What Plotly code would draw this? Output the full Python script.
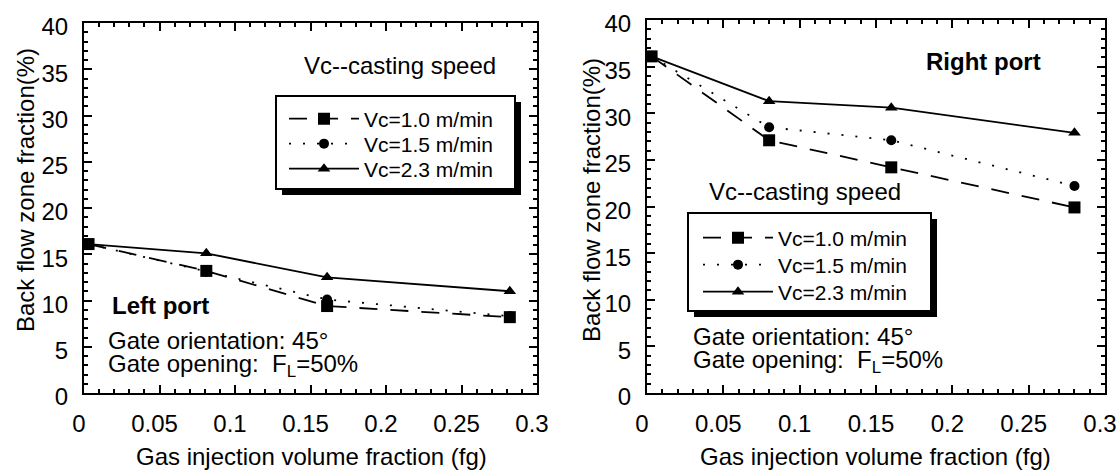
import plotly.graph_objects as go

W, H = 1117, 476
FONT = "Liberation Sans, Arial, Helvetica, sans-serif"

# ---------------- data ----------------
series_names = ["Vc=1.0 m/min", "Vc=1.5 m/min", "Vc=2.3 m/min"]

fg_left = [0.003, 0.081, 0.161, 0.282]
left_vc10 = [16.1, 13.2, 9.4, 8.2]
left_vc15 = [16.1, 13.1, 10.1, 8.3]
left_vc23 = [16.1, 15.1, 12.5, 11.0]

fg_right = [0.003, 0.080, 0.160, 0.280]
right_vc10 = [36.1, 27.1, 24.2, 19.9]
right_vc15 = [36.1, 28.5, 27.1, 22.2]
right_vc23 = [36.1, 31.3, 30.6, 27.9]

x_range = [0, 0.3]
y_range = [0, 40]

# ---------------- styles ----------------
styles = [
    dict(dash="18px,13px", symbol="square", size=12),
    dict(dash="2px,12px", symbol="circle", size=10),
    dict(dash="solid", symbol="triangle-up", size=11),
]


def px_x(p):
    return p / W


def px_y(p):
    return 1 - p / H


fig = go.Figure()

panels = [
    dict(xa="x", ya="y", fg=fg_left, vals=[left_vc10, left_vc15, left_vc23],
         legends=["legend", "legend2", "legend3"], leg_x=284, leg_rows=[119, 144, 169]),
    dict(xa="x2", ya="y2", fg=fg_right, vals=[right_vc10, right_vc15, right_vc23],
         legends=["legend4", "legend5", "legend6"], leg_x=698, leg_rows=[238, 265, 292]),
]

layout_legends = {}
for p in panels:
    for i, (name, vals) in enumerate(zip(series_names, p["vals"])):
        st = styles[i]
        fig.add_trace(go.Scatter(
            x=p["fg"], y=vals, name=name, mode="lines+markers",
            xaxis=p["xa"], yaxis=p["ya"],
            line=dict(color="black", width=1.8, dash=st["dash"]),
            marker=dict(color="black", symbol=st["symbol"], size=st["size"]),
            legend=p["legends"][i], showlegend=True,
        ))
        layout_legends[p["legends"][i]] = dict(
            x=px_x(p["leg_x"]), y=px_y(p["leg_rows"][i]),
            xanchor="left", yanchor="middle",
            bgcolor="rgba(0,0,0,0)", borderwidth=0,
            font=dict(family=FONT, size=21, color="black"),
            itemwidth=70,
        )

axis_common = dict(
    showline=True, linecolor="black", linewidth=2, mirror="allticks",
    ticks="inside", ticklen=8, tickwidth=1.5, tickcolor="black",
    showgrid=False, zeroline=False, automargin=False,
    tickfont=dict(family=FONT, size=24, color="black"),
)

xa_common = dict(axis_common, range=x_range, tick0=0, dtick=0.05,
                 minor=dict(dtick=0.01, ticks="inside", ticklen=4, tickwidth=1.5, tickcolor="black"),
                 ticklabelstandoff=8, ticklabelshift=-5)
ya_common = dict(axis_common, range=y_range, tick0=0, dtick=5,
                 minor=dict(dtick=1, ticks="inside", ticklen=4, tickwidth=1.5, tickcolor="black"),
                 ticklabelstandoff=9, ticklabelshift=4)

fig.update_layout(
    width=W, height=H, autosize=False, margin=dict(l=0, r=0, t=0, b=0, pad=0),
    paper_bgcolor="white", plot_bgcolor="white",
    font=dict(family=FONT, color="black"),
    xaxis=dict(xa_common, domain=[px_x(84), px_x(537)], anchor="y"),
    yaxis=dict(ya_common, domain=[px_y(393), px_y(23)], anchor="x"),
    xaxis2=dict(xa_common, domain=[px_x(647), px_x(1105)], anchor="y2"),
    yaxis2=dict(ya_common, domain=[px_y(393), px_y(20)], anchor="x2"),
    **layout_legends,
)

# legend boxes with drop shadow
shapes = []
for (x0, y0, x1, y1) in [(276, 96, 515, 189), (688, 213, 931, 311)]:
    shapes.append(dict(type="rect", xref="paper", yref="paper", layer="above",
                       x0=px_x(x0 + 6), x1=px_x(x1 + 6), y0=px_y(y1 + 6), y1=px_y(y0 + 6),
                       fillcolor="black", line=dict(width=0)))
    shapes.append(dict(type="rect", xref="paper", yref="paper", layer="above",
                       x0=px_x(x0), x1=px_x(x1), y0=px_y(y1), y1=px_y(y0),
                       fillcolor="white", line=dict(color="black", width=2)))
fig.update_layout(shapes=shapes)


def ann(text, x, y, size=24, xanchor="left", bold=False, angle=0):
    t = f"<b>{text}</b>" if bold else text
    fig.add_annotation(text=t, x=px_x(x), y=px_y(y), xref="paper", yref="paper",
                       xanchor=xanchor, yanchor="middle", showarrow=False, textangle=angle,
                       font=dict(family=FONT, size=size, color="black"))


# left panel texts
ann("Vc--casting speed", 302, 66)
ann("Left port", 110, 305, bold=True)
ann("Gate orientation: 45°", 106, 340)
ann("Gate opening:  F<sub>L</sub>=50%", 106, 365)
# right panel texts
ann("Right port", 924, 62, bold=True)
ann("Vc--casting speed", 707, 191)
ann("Gate orientation: 45°", 691, 336)
ann("Gate opening:  F<sub>L</sub>=50%", 691, 361)
# axis titles
ann("Gas injection volume fraction (fg)", 311, 456, xanchor="center")
ann("Gas injection volume fraction (fg)", 875, 456, xanchor="center")
ann("Back flow zone fraction(%)", 25, 190, xanchor="center", angle=-90)
ann("Back flow zone fraction(%)", 591, 200, xanchor="center", angle=-90)

fig.write_html("out.html")
